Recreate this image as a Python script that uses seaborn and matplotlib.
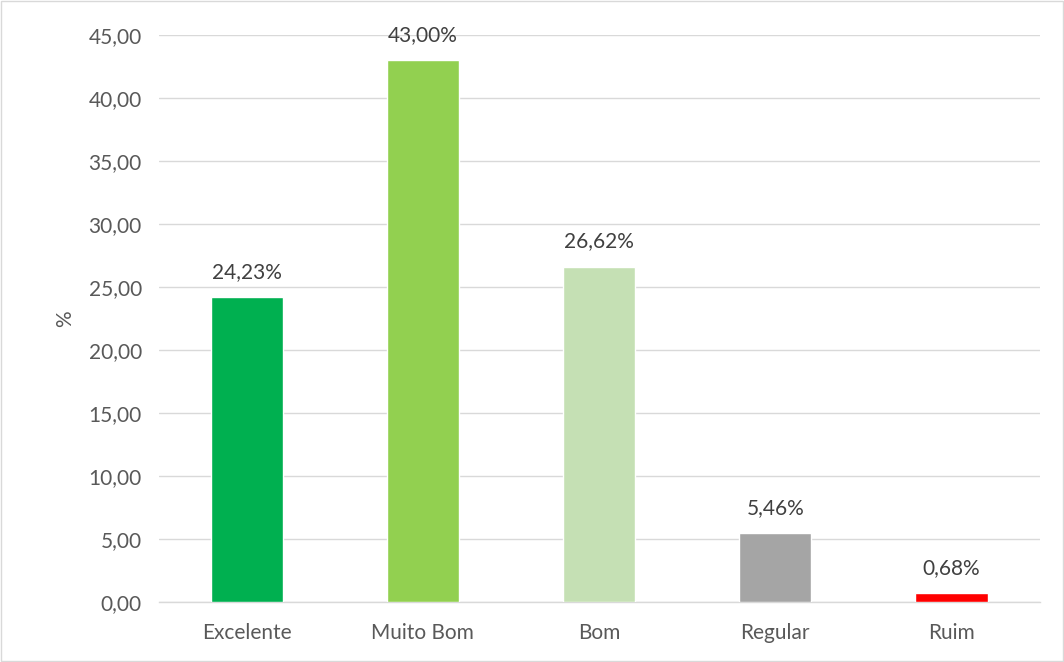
import numpy as np
import pandas as pd
import seaborn as sns
import matplotlib.pyplot as plt

categories = ["Excelente", "Muito Bom", "Bom", "Regular", "Ruim"]
values = [24.23, 43.00, 26.62, 5.46, 0.68]
bar_colors = ["#00B050", "#92D050", "#C5E0B4", "#A5A5A5", "#FF0000"]
yticks = [0, 5, 10, 15, 20, 25, 30, 35, 40, 45]

df = pd.DataFrame({"categoria": categories, "valor": values})

sns.set_style("white")
plt.rcParams["font.family"] = ["Lato", "DejaVu Sans"]
text_color = "#595959"
fs = 15

fig = plt.figure(figsize=(10.64, 6.62), dpi=100)
ax = fig.add_axes([0.149, 0.0906, 0.828, 0.8565])

sns.barplot(data=df, x="categoria", y="valor", hue="categoria",
            palette=bar_colors, saturation=1, legend=False, width=0.41,
            ax=ax, zorder=3)

ax.set_ylim(0, 45)
ax.set_yticks(yticks)
ax.set_yticklabels([f"{t:.2f}".replace(".", ",") for t in yticks])
ax.yaxis.grid(True, color="#D9D9D9", linewidth=1, zorder=0)
ax.set_axisbelow(True)

for s in ["top", "right", "left"]:
    ax.spines[s].set_visible(False)
ax.spines["bottom"].set_color("#D9D9D9")
ax.spines["bottom"].set_linewidth(1)

ax.tick_params(axis="y", length=0, colors=text_color, labelsize=fs, pad=12)
ax.tick_params(axis="x", length=0, colors=text_color, labelsize=fs, pad=15)
ax.set_xlabel("")
ax.set_ylabel("%", color=text_color, fontsize=fs, labelpad=10)

for i, v in enumerate(values):
    ax.text(i, v + 1.2, f"{v:.2f}%".replace(".", ","), ha="center", va="bottom",
            color="#404040", fontsize=fs)

# light border around the chart area
fig.patches.append(plt.Rectangle((0.001, 0.001), 0.998, 0.998, transform=fig.transFigure,
                                 fill=False, edgecolor="#D9D9D9", linewidth=1))

fig.savefig("out.png", dpi=100)
